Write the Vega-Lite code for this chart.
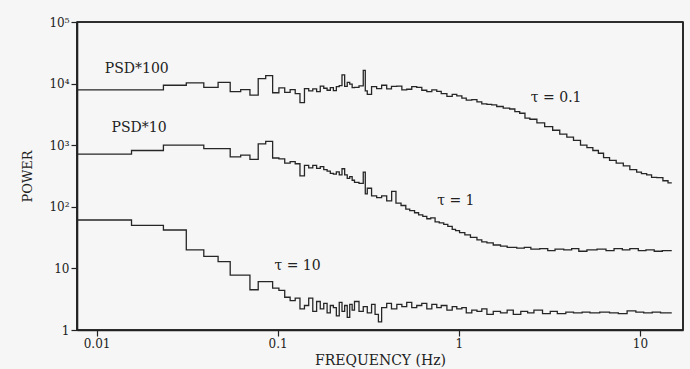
{
"$schema":"https://vega.github.io/schema/vega-lite/v6.json",
"width":606,"height":308,
"autosize":{"type":"none"},
"padding":{"left":77,"top":22,"right":7,"bottom":39},
"background":"#f6f6f6",
"config":{"view":{"stroke":"#222222","strokeWidth":1.6}},
"data":{"values":[
{"s":"a","f":0.0078,"p":7900},{"s":"a","f":0.0234,"p":9400},{"s":"a","f":0.0313,"p":10300},{"s":"a","f":0.0391,"p":8700},{"s":"a","f":0.0469,"p":10500},{"s":"a","f":0.0547,"p":7400},{"s":"a","f":0.0625,"p":8000},{"s":"a","f":0.0703,"p":6500},{"s":"a","f":0.0781,"p":12000},{"s":"a","f":0.0859,"p":13500},{"s":"a","f":0.0938,"p":7100},{"s":"a","f":0.1016,"p":8500},{"s":"a","f":0.1094,"p":7200},{"s":"a","f":0.1172,"p":8000},{"s":"a","f":0.125,"p":6900},{"s":"a","f":0.1328,"p":4900},{"s":"a","f":0.1406,"p":8300},{"s":"a","f":0.1484,"p":7600},{"s":"a","f":0.1563,"p":8200},{"s":"a","f":0.1641,"p":7400},{"s":"a","f":0.1719,"p":9100},{"s":"a","f":0.1797,"p":8400},{"s":"a","f":0.1875,"p":7800},{"s":"a","f":0.1953,"p":8600},{"s":"a","f":0.2031,"p":7700},{"s":"a","f":0.2109,"p":8900},{"s":"a","f":0.2188,"p":9300},{"s":"a","f":0.2266,"p":13900},{"s":"a","f":0.2344,"p":9000},{"s":"a","f":0.2422,"p":10500},{"s":"a","f":0.25,"p":9800},{"s":"a","f":0.2578,"p":8600},{"s":"a","f":0.2656,"p":8700},{"s":"a","f":0.2813,"p":9200},{"s":"a","f":0.2969,"p":16400},{"s":"a","f":0.3047,"p":7600},{"s":"a","f":0.3125,"p":6700},{"s":"a","f":0.33,"p":8900},{"s":"a","f":0.352,"p":8300},{"s":"a","f":0.375,"p":9400},{"s":"a","f":0.4,"p":8200},{"s":"a","f":0.425,"p":9000},{"s":"a","f":0.455,"p":9100},{"s":"a","f":0.485,"p":7900},{"s":"a","f":0.516,"p":8100},{"s":"a","f":0.55,"p":8900},{"s":"a","f":0.586,"p":8700},{"s":"a","f":0.625,"p":7800},{"s":"a","f":0.666,"p":7400},{"s":"a","f":0.71,"p":7900},{"s":"a","f":0.756,"p":7500},{"s":"a","f":0.8,"p":6900},{"s":"a","f":0.86,"p":6200},{"s":"a","f":0.92,"p":6700},{"s":"a","f":0.975,"p":6300},{"s":"a","f":1.04,"p":5800},{"s":"a","f":1.1,"p":5400},{"s":"a","f":1.18,"p":5500},{"s":"a","f":1.26,"p":5050},{"s":"a","f":1.34,"p":4700},{"s":"a","f":1.43,"p":4600},{"s":"a","f":1.52,"p":4500},{"s":"a","f":1.62,"p":4250},{"s":"a","f":1.76,"p":4000},{"s":"a","f":1.91,"p":3870},{"s":"a","f":2.04,"p":3500},{"s":"a","f":2.17,"p":3300},{"s":"a","f":2.32,"p":2750},{"s":"a","f":2.47,"p":2640},{"s":"a","f":2.7,"p":2300},{"s":"a","f":2.98,"p":2000},{"s":"a","f":3.3,"p":1750},{"s":"a","f":3.61,"p":1510},{"s":"a","f":3.95,"p":1350},{"s":"a","f":4.3,"p":1200},{"s":"a","f":4.7,"p":1000},{"s":"a","f":5.1,"p":910},{"s":"a","f":5.5,"p":820},{"s":"a","f":5.9,"p":740},{"s":"a","f":6.3,"p":630},{"s":"a","f":6.8,"p":565},{"s":"a","f":7.4,"p":510},{"s":"a","f":8.1,"p":460},{"s":"a","f":8.8,"p":400},{"s":"a","f":9.6,"p":365},{"s":"a","f":10.2,"p":345},{"s":"a","f":10.9,"p":330},{"s":"a","f":11.6,"p":300},{"s":"a","f":12.4,"p":297},{"s":"a","f":13.4,"p":265},{"s":"a","f":14.3,"p":245},{"s":"a","f":15.0,"p":245},
{"s":"b","f":0.0078,"p":716},{"s":"b","f":0.0156,"p":820},{"s":"b","f":0.0234,"p":1000},{"s":"b","f":0.0313,"p":1000},{"s":"b","f":0.0391,"p":880},{"s":"b","f":0.0469,"p":880},{"s":"b","f":0.0547,"p":645},{"s":"b","f":0.0625,"p":690},{"s":"b","f":0.0703,"p":590},{"s":"b","f":0.0781,"p":1050},{"s":"b","f":0.0859,"p":1150},{"s":"b","f":0.0938,"p":620},{"s":"b","f":0.1016,"p":600},{"s":"b","f":0.1094,"p":510},{"s":"b","f":0.1172,"p":540},{"s":"b","f":0.125,"p":500},{"s":"b","f":0.1328,"p":318},{"s":"b","f":0.1406,"p":470},{"s":"b","f":0.1484,"p":430},{"s":"b","f":0.1563,"p":470},{"s":"b","f":0.1641,"p":420},{"s":"b","f":0.1719,"p":450},{"s":"b","f":0.1797,"p":400},{"s":"b","f":0.1875,"p":380},{"s":"b","f":0.1953,"p":350},{"s":"b","f":0.2031,"p":340},{"s":"b","f":0.2109,"p":370},{"s":"b","f":0.2188,"p":330},{"s":"b","f":0.2266,"p":415},{"s":"b","f":0.2344,"p":330},{"s":"b","f":0.2422,"p":290},{"s":"b","f":0.25,"p":310},{"s":"b","f":0.2578,"p":270},{"s":"b","f":0.2656,"p":250},{"s":"b","f":0.2813,"p":240},{"s":"b","f":0.2969,"p":365},{"s":"b","f":0.3047,"p":162},{"s":"b","f":0.3125,"p":200},{"s":"b","f":0.33,"p":150},{"s":"b","f":0.352,"p":141},{"s":"b","f":0.375,"p":150},{"s":"b","f":0.4,"p":125},{"s":"b","f":0.426,"p":178},{"s":"b","f":0.45,"p":115},{"s":"b","f":0.48,"p":105},{"s":"b","f":0.51,"p":92},{"s":"b","f":0.536,"p":87},{"s":"b","f":0.57,"p":80},{"s":"b","f":0.6,"p":74},{"s":"b","f":0.633,"p":70},{"s":"b","f":0.666,"p":64},{"s":"b","f":0.7,"p":66},{"s":"b","f":0.74,"p":57},{"s":"b","f":0.78,"p":55},{"s":"b","f":0.826,"p":52},{"s":"b","f":0.87,"p":48},{"s":"b","f":0.92,"p":43},{"s":"b","f":0.96,"p":41},{"s":"b","f":1.01,"p":38},{"s":"b","f":1.08,"p":35},{"s":"b","f":1.16,"p":32},{"s":"b","f":1.26,"p":29},{"s":"b","f":1.34,"p":27},{"s":"b","f":1.43,"p":26},{"s":"b","f":1.55,"p":24},{"s":"b","f":1.7,"p":23},{"s":"b","f":1.85,"p":22},{"s":"b","f":2.09,"p":21.4},{"s":"b","f":2.3,"p":22},{"s":"b","f":2.5,"p":20.5},{"s":"b","f":2.8,"p":21},{"s":"b","f":3.1,"p":19.5},{"s":"b","f":3.4,"p":20.5},{"s":"b","f":3.8,"p":20},{"s":"b","f":4.2,"p":21},{"s":"b","f":4.6,"p":19},{"s":"b","f":5.1,"p":20},{"s":"b","f":5.8,"p":20.5},{"s":"b","f":6.5,"p":19.5},{"s":"b","f":7.2,"p":21},{"s":"b","f":8.0,"p":20},{"s":"b","f":8.8,"p":21},{"s":"b","f":9.8,"p":19.5},{"s":"b","f":10.8,"p":20},{"s":"b","f":12.0,"p":19},{"s":"b","f":13.3,"p":19.5},{"s":"b","f":15.0,"p":19.5},
{"s":"c","f":0.0078,"p":61},{"s":"c","f":0.0156,"p":50},{"s":"c","f":0.0234,"p":42},{"s":"c","f":0.0313,"p":20},{"s":"c","f":0.0391,"p":15.7},{"s":"c","f":0.0469,"p":12.9},{"s":"c","f":0.0547,"p":7.8},{"s":"c","f":0.0625,"p":7.8},{"s":"c","f":0.0703,"p":4.5},{"s":"c","f":0.0781,"p":6.1},{"s":"c","f":0.0859,"p":6.1},{"s":"c","f":0.0938,"p":4.8},{"s":"c","f":0.1016,"p":4.4},{"s":"c","f":0.1094,"p":3.4},{"s":"c","f":0.1172,"p":3.0},{"s":"c","f":0.125,"p":3.3},{"s":"c","f":0.1328,"p":2.2},{"s":"c","f":0.1406,"p":2.5},{"s":"c","f":0.1484,"p":3.3},{"s":"c","f":0.1563,"p":2.0},{"s":"c","f":0.1641,"p":2.9},{"s":"c","f":0.1719,"p":2.2},{"s":"c","f":0.1797,"p":2.7},{"s":"c","f":0.1875,"p":1.9},{"s":"c","f":0.1953,"p":2.5},{"s":"c","f":0.2031,"p":2.3},{"s":"c","f":0.2109,"p":1.7},{"s":"c","f":0.2188,"p":2.8},{"s":"c","f":0.2266,"p":2.0},{"s":"c","f":0.2344,"p":2.5},{"s":"c","f":0.2422,"p":1.6},{"s":"c","f":0.25,"p":2.6},{"s":"c","f":0.2578,"p":2.1},{"s":"c","f":0.2656,"p":2.9},{"s":"c","f":0.2813,"p":2.0},{"s":"c","f":0.2969,"p":2.4},{"s":"c","f":0.3125,"p":1.9},{"s":"c","f":0.33,"p":2.6},{"s":"c","f":0.345,"p":1.8},{"s":"c","f":0.36,"p":1.35},{"s":"c","f":0.375,"p":2.3},{"s":"c","f":0.4,"p":2.7},{"s":"c","f":0.425,"p":2.2},{"s":"c","f":0.455,"p":2.6},{"s":"c","f":0.485,"p":2.4},{"s":"c","f":0.516,"p":2.8},{"s":"c","f":0.55,"p":2.3},{"s":"c","f":0.586,"p":2.5},{"s":"c","f":0.625,"p":2.7},{"s":"c","f":0.666,"p":2.2},{"s":"c","f":0.71,"p":2.6},{"s":"c","f":0.756,"p":2.3},{"s":"c","f":0.8,"p":2.5},{"s":"c","f":0.86,"p":2.1},{"s":"c","f":0.92,"p":2.4},{"s":"c","f":0.975,"p":2.2},{"s":"c","f":1.04,"p":2.3},{"s":"c","f":1.1,"p":1.9},{"s":"c","f":1.18,"p":2.1},{"s":"c","f":1.26,"p":2.0},{"s":"c","f":1.34,"p":2.2},{"s":"c","f":1.43,"p":1.8},{"s":"c","f":1.55,"p":2.0},{"s":"c","f":1.7,"p":1.9},{"s":"c","f":1.85,"p":2.1},{"s":"c","f":2.0,"p":1.8},{"s":"c","f":2.2,"p":2.0},{"s":"c","f":2.4,"p":1.9},{"s":"c","f":2.6,"p":2.1},{"s":"c","f":2.9,"p":1.85},{"s":"c","f":3.2,"p":2.0},{"s":"c","f":3.5,"p":1.85},{"s":"c","f":3.9,"p":1.95},{"s":"c","f":4.3,"p":1.9},{"s":"c","f":4.8,"p":1.95},{"s":"c","f":5.3,"p":1.9},{"s":"c","f":6.0,"p":1.95},{"s":"c","f":6.8,"p":1.9},{"s":"c","f":7.6,"p":1.85},{"s":"c","f":8.5,"p":2.05},{"s":"c","f":9.5,"p":1.95},{"s":"c","f":10.5,"p":1.9},{"s":"c","f":11.7,"p":1.95},{"s":"c","f":13.0,"p":1.9},{"s":"c","f":15.0,"p":1.9},
{"s":"lab","f":0.0111,"p":17000,"t":"PSD*100"},
{"s":"lab","f":0.0121,"p":1900,"t":"PSD*10"},
{"s":"lab","f":2.5,"p":5900,"t":"τ = 0.1"},
{"s":"lab","f":0.76,"p":124,"t":"τ = 1"},
{"s":"lab","f":0.096,"p":11,"t":"τ = 10"}
]},
"encoding":{
 "x":{"field":"f","type":"quantitative","scale":{"type":"log","domain":[0.0078,17.3],"nice":false},
  "axis":{"values":[0.01,0.1,1,10],"labelExpr":"datum.value < 0.05 ? '0.01' : datum.value < 0.5 ? '0.1' : datum.value < 5 ? '1' : '10'","grid":true,"gridColor":"#f6f6f6","gridOpacity":0,"domain":true,"domainColor":"#222222","domainWidth":1.6,"ticks":true,"tickColor":"#222222","tickWidth":1.2,"tickSize":6,"labelFont":"DejaVu Serif","labelFontSize":12,"labelColor":"#222222","title":"FREQUENCY (Hz)","titleFont":"DejaVu Serif","titleFontSize":14,"titleFontWeight":"normal","titleColor":"#222222","titlePadding":4}},
 "y":{"field":"p","type":"quantitative","scale":{"type":"log","domain":[1,100000],"nice":false},
  "axis":{"values":[1,10,100,1000,10000,100000],"labelExpr":"datum.value < 5 ? '1' : datum.value < 50 ? '10' : datum.value < 500 ? '10²' : datum.value < 5000 ? '10³' : datum.value < 50000 ? '10⁴' : '10⁵'","grid":true,"gridColor":"#f6f6f6","gridOpacity":0,"domain":true,"domainColor":"#222222","domainWidth":1.6,"ticks":true,"tickColor":"#222222","tickWidth":1.2,"tickSize":6,"labelFont":"DejaVu Serif","labelFontSize":12,"labelColor":"#222222","title":"POWER","titleFont":"DejaVu Serif","titleFontSize":13,"titleFontWeight":"normal","titleColor":"#222222","titlePadding":14}}
},
"layer":[
{"transform":[{"filter":"datum.s != 'lab'"}],
 "mark":{"type":"line","interpolate":"step-after","color":"#262626","strokeWidth":1.3},
 "encoding":{"detail":{"field":"s"}}},
{"transform":[{"filter":"datum.s == 'lab'"}],
 "mark":{"type":"text","align":"left","baseline":"middle","font":"DejaVu Serif","fontSize":14,"color":"#222222"},
 "encoding":{"text":{"field":"t"}}},
{"data":{"values":[{"x1":0.0078,"x2":17.3,"y1":1,"y2":1},{"x1":0.0078,"x2":17.3,"y1":100000,"y2":100000},{"x1":0.0078,"x2":0.0078,"y1":1,"y2":100000},{"x1":17.3,"x2":17.3,"y1":1,"y2":100000}]},
 "mark":{"type":"rule","color":"#222222","strokeWidth":1.6},
 "encoding":{"x":{"field":"x1","type":"quantitative"},"x2":{"field":"x2"},"y":{"field":"y1","type":"quantitative"},"y2":{"field":"y2"}}}
]
}
